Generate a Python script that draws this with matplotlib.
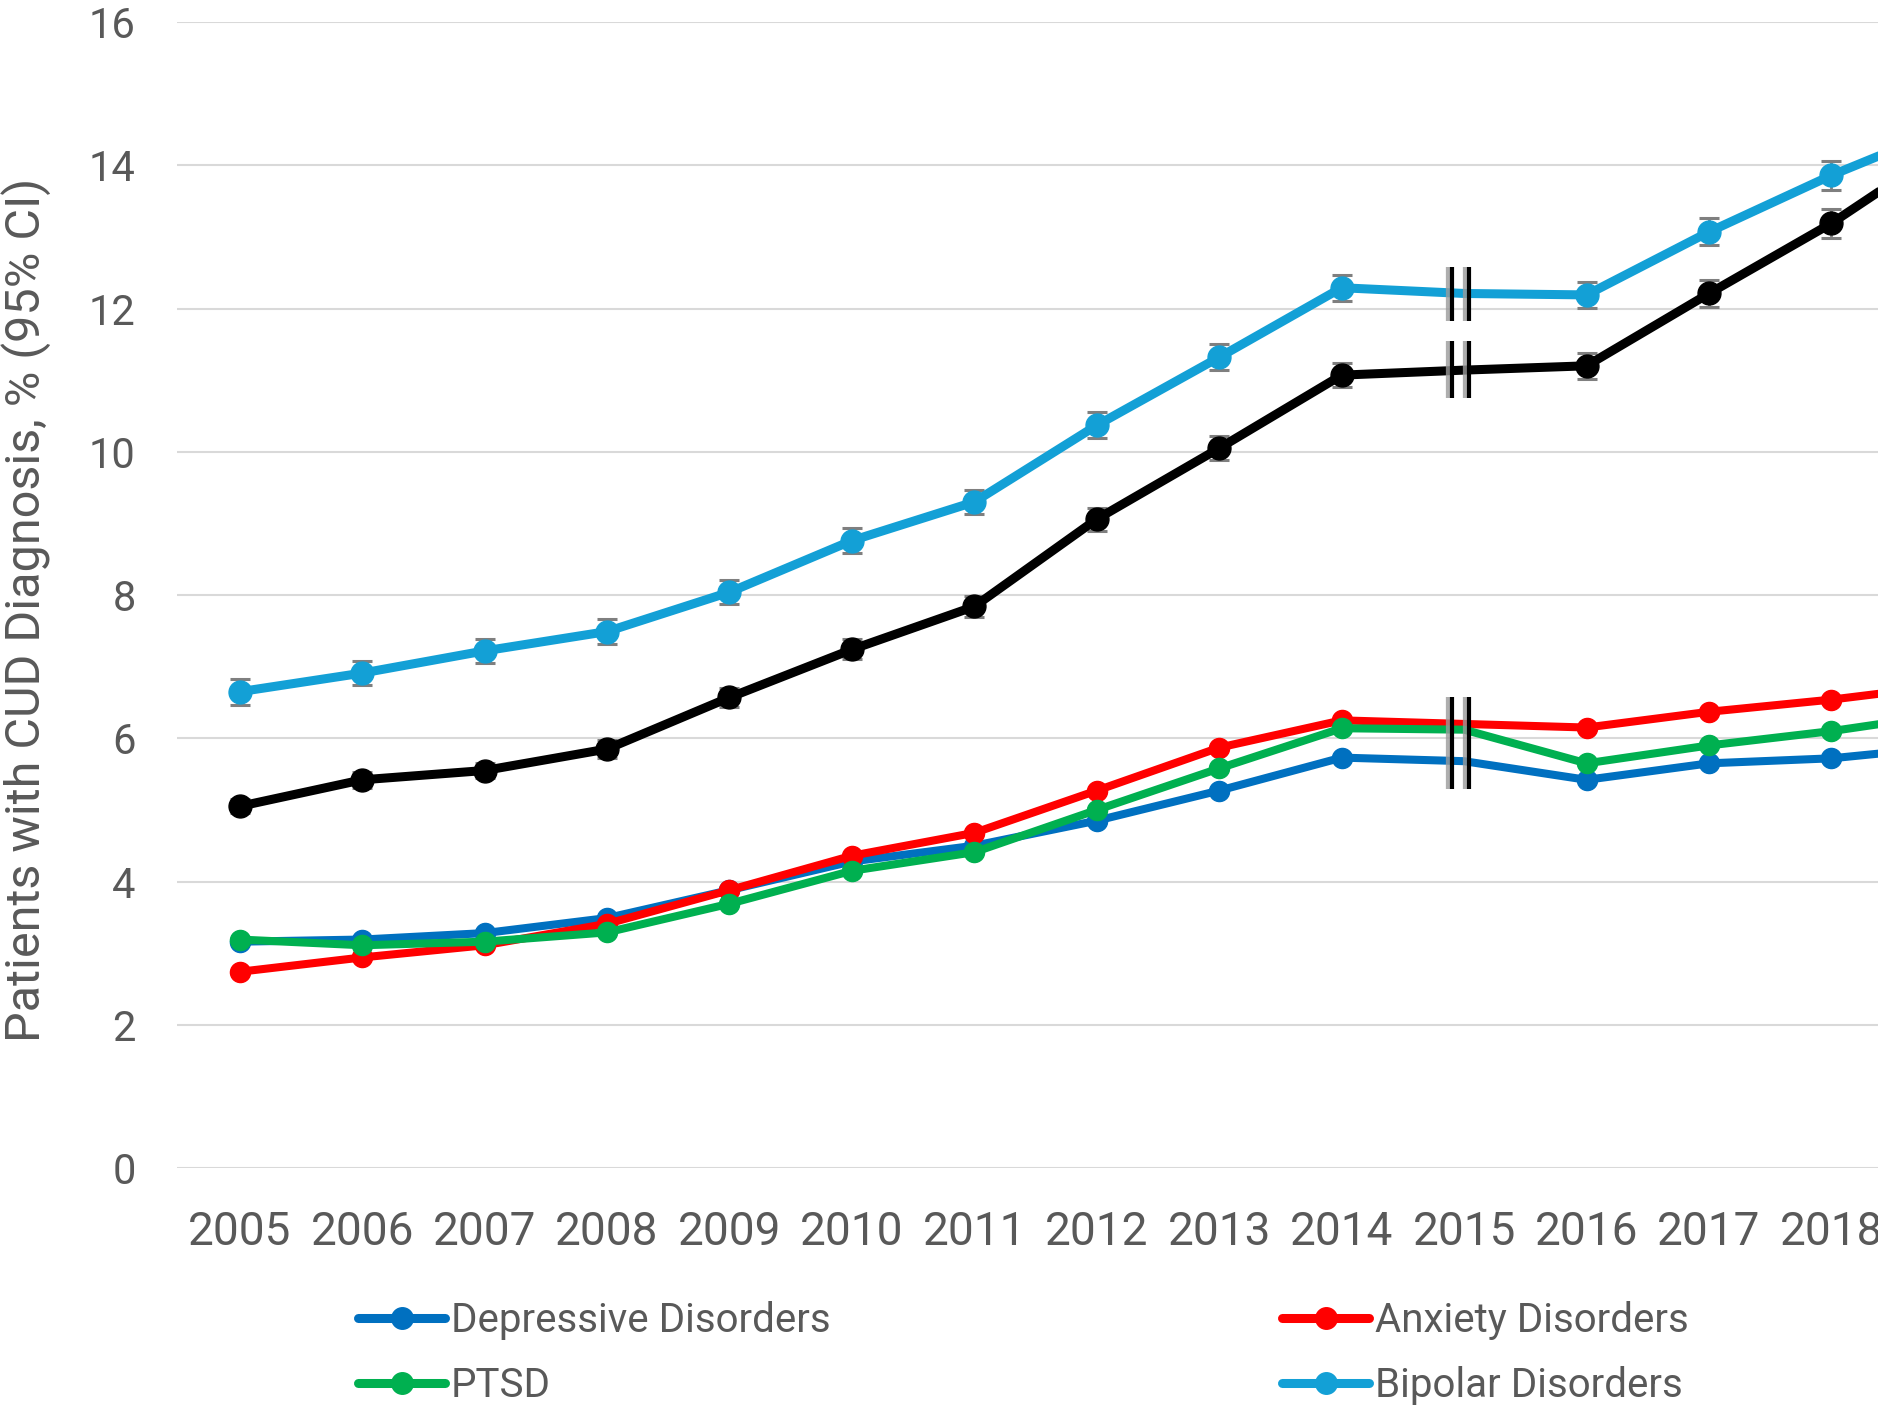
import numpy as np
import matplotlib
matplotlib.use("Agg")
import matplotlib.pyplot as plt
from matplotlib.lines import Line2D
from matplotlib import transforms

# ---------------- data ----------------
years = [2005, 2006, 2007, 2008, 2009, 2010, 2011, 2012, 2013, 2014, 2015, 2016, 2017, 2018, 2019]
depressive = [3.16, 3.19, 3.28, 3.49, 3.88, 4.28, 4.50, 4.85, 5.27, 5.73, 5.68, 5.42, 5.65, 5.72, 5.89]
anxiety = [2.74, 2.94, 3.11, 3.41, 3.88, 4.36, 4.68, 5.27, 5.87, 6.25, 6.20, 6.15, 6.37, 6.54, 6.75]
ptsd = [3.19, 3.11, 3.16, 3.29, 3.69, 4.15, 4.41, 5.00, 5.58, 6.14, 6.12, 5.65, 5.90, 6.10, 6.35]
bipolar = [6.65, 6.91, 7.22, 7.49, 8.04, 8.76, 9.30, 10.37, 11.32, 12.29, 12.21, 12.19, 13.07, 13.86, 14.56]
any_disorder = [5.05, 5.42, 5.55, 5.85, 6.57, 7.24, 7.84, 9.06, 10.05, 11.07, 11.14, 11.20, 12.21, 13.19, 14.33]
bipolar_ci = [0.18, 0.17, 0.17, 0.17, 0.17, 0.17, 0.17, 0.18, 0.18, 0.18, np.nan, 0.18, 0.19, 0.20, 0.20]
any_ci = [0.10, 0.11, 0.11, 0.12, 0.13, 0.14, 0.15, 0.16, 0.17, 0.17, np.nan, 0.18, 0.19, 0.20, 0.21]
no_marker_years = [2015]
break_year = 2015
break_spans = [(11.82, 12.58), (10.75, 11.54), (5.29, 6.58)]
y_ticks = [0, 2, 4, 6, 8, 10, 12, 14, 16]
legend_left = [("Depressive Disorders", "#0070C0"), ("PTSD", "#00B050")]
legend_right = [("Anxiety Disorders", "#FF0000"), ("Bipolar Disorders", "#13A0D6")]

# ---------------- style ----------------
plt.rcParams['font.family'] = ['Roboto', 'DejaVu Sans']
TXT = '#595959'

fig = plt.figure(figsize=(18.78, 14.11), dpi=100)
ax = fig.add_axes([0.0944, 0.1722, 1 - 0.0944, 0.9844 - 0.1722])

x = np.array(years, dtype=float)
mark_idx = [i for i, yv in enumerate(years) if yv not in no_marker_years]

series = [
    (depressive, '#0070C0', 5.8, 14.5, 3),
    (anxiety, '#FF0000', 5.8, 14.5, 4),
    (ptsd, '#00B050', 5.8, 14.5, 5),
    (bipolar, '#13A0D6', 6.5, 16.5, 6),
    (any_disorder, '#000000', 6.5, 16.5, 7),
]
for vals, col, lw, ms, z in series:
    ax.plot(x, vals, color=col, lw=lw, marker='o', ms=ms, markevery=mark_idx,
            zorder=z, solid_capstyle='round', solid_joinstyle='round')

for vals, ci, z in [(bipolar, bipolar_ci, 5.5), (any_disorder, any_ci, 6.5)]:
    v = np.array(vals); c = np.array(ci)
    ok = ~np.isnan(c)
    ax.errorbar(x[ok], v[ok], yerr=c[ok], fmt='none', ecolor='#7f7f7f',
                elinewidth=2, capsize=7, capthick=2.2, zorder=z)

# break marks
shadow = transforms.offset_copy(ax.transData, fig=fig, x=-3, y=0, units='dots')
dx = 0.068
for lo, hi in break_spans:
    for xx in (break_year - 0.03 - dx, break_year - 0.03 + dx):
        ax.plot([xx, xx], [lo, hi], color='#9a9a9a', lw=4.5, alpha=0.8,
                transform=shadow, zorder=9, solid_capstyle='butt')
        ax.plot([xx, xx], [lo, hi], color='black', lw=3.0, zorder=10,
                solid_capstyle='butt')

ax.set_xlim(2004.49, 2018.38)
ax.set_ylim(0, 16)
ax.set_yticks(y_ticks)
ax.set_xticks(years[:-1])
ax.set_xticklabels([str(v) for v in years[:-1]])
ax.tick_params(axis='x', length=0, pad=30, labelsize=33, labelcolor=TXT)
ax.tick_params(axis='y', length=0, pad=30, labelsize=30, labelcolor=TXT)
for s in ax.spines.values():
    s.set_visible(False)
ax.grid(axis='y', color='#d9d9d9', lw=1.5, zorder=0)
ax.set_axisbelow(True)

fig.text(0.0138, 0.5677, 'Patients with CUD Diagnosis, % (95% CI)', rotation=90,
         ha='center', va='center', fontsize=35, color=TXT)

def make_legend(items, x0):
    handles = [Line2D([0], [0], color=c, lw=6.5, marker='o', ms=15.5,
                      solid_capstyle='round') for _, c in items]
    labels = [t for t, _ in items]
    leg = fig.legend(handles, labels, loc='center left',
                     bbox_to_anchor=(x0, 1 - 1353 / 1411), frameon=False,
                     fontsize=29, handlelength=2.16, handletextpad=0.15,
                     borderpad=0, borderaxespad=0, labelspacing=0.66,
                     labelcolor=TXT)
    return leg

make_legend(legend_left, 358 / 1878)
make_legend(legend_right, 1282 / 1878)

fig.savefig('out.png', dpi=100)
